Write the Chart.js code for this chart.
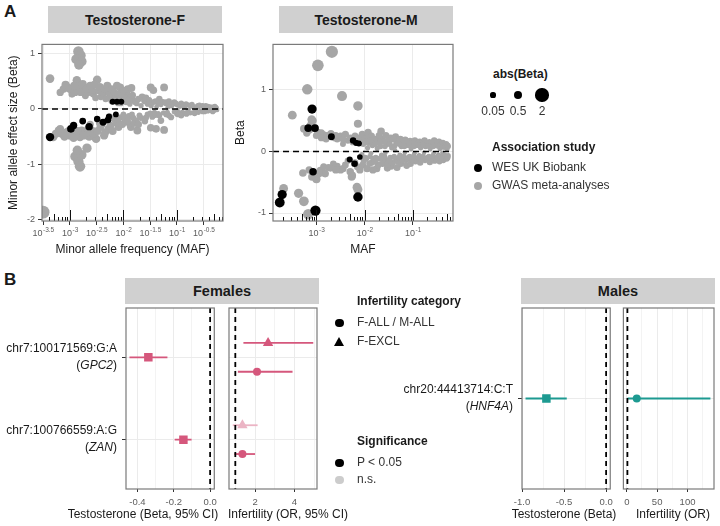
<!DOCTYPE html>
<html>
<head>
<meta charset="utf-8">
<script src="https://cdn.jsdelivr.net/npm/chart.js@4.4.1/dist/chart.umd.min.js"></script>
<style>
  body { margin: 0; background: #fff; font-family: "Liberation Sans", Arial, sans-serif; color: #1a1a1a; }
  #fig { position: relative; width: 720px; height: 526px; overflow: hidden; }
  #fig canvas, #fig .t, #fig .strip, #fig .shape { position: absolute; }
  .t { white-space: nowrap; line-height: 1.15; }
  .strip { background: #d0d0d0; font-weight: bold; display: flex; align-items: center; justify-content: center; color: #1a1a1a; }
</style>
</head>
<body>
<div id="fig"></div>
<script>
const FONT = '"Liberation Sans", Arial, sans-serif';
const GRID = '#ebebeb';
const TICK_TEXT = '#5c5c5c';
const PINK = '#d5577c';
const PINK_NS = '#ebb4c4';
const TEAL = '#1d9a91';
const GWAS_GREY = '#a6a6a6';

// ===== Panel A: log10(MAF) and Beta =====
const femWesLogMaf = [-3.37, -2.98, -2.93, -2.76, -2.64, -2.49, -2.38, -2.29, -2.27, -2.14, -2.20, -2.12, -2.04];
const femWesBeta   = [-0.51, -0.36, -0.30, -0.22, -0.32, -0.18, -0.24, -0.20, -0.14, -0.10, 0.13, 0.13, 0.13];

const femGwasLogMaf = [
  -2.84, -2.80, -2.88, -2.78, -2.83, -3.37, -3.12, -3.04, -2.96, -2.96, -2.87, -2.84, -2.74, -2.71, -2.65, -2.56,
  -2.49, -2.46, -2.37, -2.28, -2.20, -2.12, -2.06, -2.00, -1.93, -1.87, -1.81, -2.60, -2.52, -2.42, -2.33, -2.25,
  -2.15, -2.03, -1.95, -2.68, -2.90, -1.92, -1.85, -1.49, -1.24, -1.44, -1.33, -1.61, -1.05, -0.83, -0.61, -0.36,
  -0.27, -1.67, -1.55, -1.42, -1.17, -0.99, -0.77, -0.52, -1.75, -1.60, -1.45, -1.30, -1.20, -1.10, -0.95, -0.85,
  -0.70, -0.60, -0.45, -1.70, -1.55, -1.35, -1.25, -1.05, -0.90, -0.80, -0.65, -0.55, -0.40,
  -3.21, -3.31, -3.15, -3.06, -2.90, -2.81, -2.78, -2.68, -2.51, -2.59, -2.43, -2.34, -2.24, -2.09, -1.96, -1.87,
  -1.77, -3.00, -2.95, -2.70, -2.62, -2.45, -2.30, -2.18, -2.05, -1.90, -1.49, -1.39, -1.24, -1.74, -1.86, -1.30,
  -1.11, -0.92, -0.67, -0.42, -0.30, -2.90, -2.84, -2.81, -2.78, -2.86, -3.50, -1.60, -1.65, -2.10, -2.64,
  -3.18, -3.08, -3.00, -2.92, -2.80, -2.76, -2.70, -2.62, -2.58, -2.54, -2.44, -2.40, -2.35, -2.30, -2.26, -2.22,
  -2.17, -2.10, -2.08, -2.01, -1.98, -1.90, -1.83, -1.78, -1.72,
  -3.26, -3.18, -3.10, -3.02, -2.93, -2.86, -2.74, -2.66, -2.56, -2.48, -2.40, -2.36, -2.28, -2.20, -2.14, -2.10,
  -2.02, -1.98, -1.92, -1.82, -1.80, -1.68, -1.72,
  -1.58, -1.52, -1.48, -1.40, -1.38, -1.28, -1.15, -1.08, -1.00, -0.92, -0.88, -0.78, -0.72, -0.62, -0.50, -0.42,
  -0.32, -1.58, -1.46, -1.40, -1.20, -1.15, -1.00, -0.95, -0.85, -0.75, -0.60, -0.48, -0.35, -0.25, -0.26,
  -1.52, -1.50, -1.35, -1.33, -1.22, -1.18, -1.12, -1.02, -0.97, -0.88, -0.82, -0.74, -0.68, -0.58, -0.52, -0.46,
  -0.38, -0.33, -0.29, -2.22, -2.05, -1.88, -2.25, -2.00, -1.84
];
const femGwasBeta = [
  1.04, 0.97, 0.90, 0.86, 0.80, 0.55, 0.36, 0.39, 0.33, 0.27, 0.52, 0.39, 0.33, 0.24, 0.39, 0.27,
  0.53, 0.33, 0.27, 0.33, 0.24, 0.42, 0.39, 0.33, 0.27, 0.21, 0.15, 0.30, 0.20, 0.22, 0.18, 0.28,
  0.20, 0.15, 0.12, 0.30, 0.30, 0.36, 0.38, 0.39, 0.39, 0.34, 0.18, 0.15, 0.12, 0.09, 0.06, 0.03,
  0.03, 0.06, 0.09, -0.06, 0.03, -0.03, 0.00, 0.06, 0.10, 0.14, 0.12, 0.08, 0.10, 0.06, 0.05, 0.04,
  0.05, 0.03, 0.03, -0.12, -0.10, -0.09, -0.07, -0.05, -0.06, -0.04, -0.04, -0.03, -0.02,
  -0.39, -0.51, -0.45, -0.42, -0.45, -0.51, -0.39, -0.71, -0.54, -0.39, -0.33, -0.42, -0.30, -0.33, -0.24, -0.30,
  -0.21, -0.48, -0.36, -0.45, -0.28, -0.25, -0.22, -0.18, -0.15, -0.13, -0.34, -0.36, -0.38, -0.39, -0.33, -0.21,
  -0.15, -0.12, -0.08, -0.04, -0.03, -0.86, -0.95, -1.04, -0.83, -0.75, -1.87, -0.22, 0.22, 0.10, -0.50,
  0.30, 0.44, 0.36, 0.42, 0.30, 0.45, 0.36, 0.42, 0.34, 0.44, 0.40, 0.30, 0.36, 0.42, 0.20, 0.36,
  0.30, 0.27, 0.18, 0.24, 0.20, 0.17, 0.25, 0.12, 0.18,
  -0.45, -0.36, -0.50, -0.40, -0.52, -0.40, -0.48, -0.36, -0.45, -0.40, -0.28, -0.48, -0.36, -0.40, -0.26, -0.20,
  -0.28, -0.18, -0.22, -0.16, -0.26, -0.16, -0.28,
  0.20, 0.16, 0.06, 0.14, 0.04, 0.13, 0.14, 0.09, 0.08, 0.10, 0.07, 0.07, 0.08, 0.05, 0.04, 0.05,
  0.04, -0.16, -0.14, -0.11, -0.10, -0.12, -0.09, -0.08, -0.08, -0.07, -0.06, -0.05, -0.04, -0.02, 0.02,
  0.10, -0.08, 0.10, -0.12, 0.12, -0.06, 0.08, 0.10, -0.10, 0.06, -0.09, 0.06, -0.06, 0.07, -0.05, 0.06,
  0.04, -0.05, 0.05, 0.14, 0.10, 0.09, -0.14, -0.10, -0.10
];

const maleWesLogMaf = [-3.76, -3.71, -3.09, -3.17, -3.03, -2.69, -3.07, -3.02, -2.24, -2.18, -2.12, -2.31, -2.21, -2.10, -2.14];
const maleWesBeta   = [-0.83, -0.70, 0.69, 0.38, 0.38, 0.24, -0.33, -0.96, 0.18, 0.14, 0.13, -0.13, -0.20, -0.09, -0.74];

const maleGwasLogMaf = [
  -2.68, -2.97, -3.19, -2.47, -2.14, -3.50, -2.14, -3.08, -3.12, -2.14, -3.68, -3.37, -3.26, -3.17, -3.28, -2.16,
  -3.26, -3.15, -3.05, -2.97, -2.90, -2.85, -2.78, -2.70, -2.62, -2.57, -2.50, -2.40, -2.35, -2.30, -2.25, -2.90, -3.10, -2.45,
  -3.09, -2.92, -2.75, -2.57, -2.40, -2.26, -2.50, -2.65, -2.82, -3.00, -2.35, -2.20, -3.06, -2.71, -2.30, -2.27,
  -3.20, -3.00, -2.80, -2.60, -2.45, -2.20, -2.10, -3.15, -2.95, -2.85, -2.60, -2.45, -2.15, -2.10,
  -2.05, -2.03, -2.06, -2.04, -1.96, -1.94, -1.97, -1.95, -1.93, -1.86, -1.84, -1.87, -1.85, -1.83,
  -1.76, -1.74, -1.77, -1.75, -1.66, -1.64, -1.67, -1.65, -1.63, -1.56, -1.54, -1.57, -1.55, -1.53,
  -1.46, -1.44, -1.47, -1.45, -1.36, -1.34, -1.37, -1.35, -1.33, -1.26, -1.24, -1.27, -1.25,
  -1.16, -1.14, -1.17, -1.15, -1.13, -1.06, -1.04, -1.07, -1.05, -0.96, -0.94, -0.97, -0.95,
  -0.86, -0.84, -0.87, -0.85, -0.76, -0.74, -0.77, -0.75, -0.66, -0.64, -0.67, -0.65,
  -0.56, -0.54, -0.57, -0.55, -0.46, -0.44, -0.47, -0.45, -0.38, -0.36, -0.39, -0.37, -0.31, -0.29, -0.32, -0.30,
  -2.00, -2.02, -1.92, -1.90, -1.80, -1.82, -1.70, -1.72, -1.60, -1.62, -1.50, -1.52, -1.40, -1.42, -1.30, -1.32,
  -1.20, -1.22, -1.10, -1.12, -1.00, -1.02, -0.90, -0.92, -0.80, -0.82, -0.70, -0.72, -0.60, -0.62, -0.50, -0.52,
  -0.42, -0.40, -0.34, -0.33, -0.27, -0.27,
  -1.98, -1.99, -1.88, -1.89, -1.78, -1.79, -1.68, -1.69, -1.58, -1.59, -1.48, -1.49, -1.38, -1.39, -1.28, -1.29,
  -1.18, -1.19, -1.08, -1.09, -0.98, -0.99, -0.88, -0.89, -0.78, -0.79, -0.68, -0.69, -0.58, -0.59, -0.48, -0.49,
  -0.40, -0.41, -0.33, -0.34, -0.28, -0.28
];
const maleGwasBeta = [
  1.62, 1.40, 1.01, 0.90, 0.74, 0.59, 0.45, 0.50, 0.42, -0.62, -0.60, -0.68, -0.81, -1.02, -0.35, -0.58,
  0.37, 0.35, 0.38, 0.31, 0.30, 0.27, 0.26, 0.29, 0.22, 0.20, 0.25, 0.28, 0.18, 0.22, 0.15, 0.22, 0.52, 0.12,
  -0.41, -0.31, -0.26, -0.24, -0.22, -0.39, -0.30, -0.20, -0.36, -0.45, -0.15, -0.18, -0.39, -0.27, -0.33, -0.41,
  0.30, 0.26, 0.20, 0.26, 0.20, 0.25, 0.22, -0.30, -0.36, -0.25, -0.30, -0.28, -0.25, -0.30,
  0.28, 0.12, -0.05, -0.22, 0.22, 0.06, -0.12, -0.28, 0.31, 0.25, 0.10, -0.03, -0.18, -0.30,
  0.18, 0.05, -0.10, -0.28, 0.33, 0.20, 0.08, -0.06, -0.20, 0.26, 0.12, -0.02, -0.15, -0.27,
  0.22, 0.06, -0.10, -0.24, 0.24, 0.14, 0.02, -0.12, -0.26, 0.20, 0.08, -0.06, -0.20,
  0.19, 0.10, -0.02, -0.14, -0.23, 0.17, 0.04, -0.08, -0.20, 0.18, 0.10, -0.03, -0.16,
  0.16, 0.06, -0.07, -0.18, 0.18, 0.08, -0.02, -0.14, 0.15, 0.04, -0.08, -0.17,
  0.18, 0.10, -0.03, -0.15, 0.16, 0.05, -0.06, -0.16, 0.14, 0.07, -0.02, -0.14, 0.12, 0.03, -0.08, -0.12,
  0.20, -0.15, 0.14, -0.20, 0.20, -0.12, 0.26, -0.22, 0.16, -0.12, 0.18, -0.20, 0.20, -0.18, 0.14, -0.16,
  0.16, -0.14, 0.14, -0.12, 0.13, -0.14, 0.13, -0.12, 0.12, -0.12, 0.13, -0.12, 0.12, -0.11, 0.12, -0.11,
  0.11, -0.10, 0.10, -0.10, 0.08, -0.07,
  0.16, -0.10, 0.18, -0.08, 0.12, -0.16, 0.14, -0.12, 0.08, -0.08, 0.12, -0.14, 0.09, -0.08, 0.12, -0.10,
  0.08, -0.08, 0.10, -0.10, 0.08, -0.08, 0.10, -0.10, 0.10, -0.08, 0.09, -0.10, 0.08, -0.08, 0.09, -0.09,
  0.08, -0.08, 0.07, -0.06, 0.10, -0.10
];

const femMafTicks = [-3.5, -3, -2.5, -2, -1.5, -1, -0.5];
const maleMafTicks = [-3, -2, -1];
const femBetaTicks = [-2, -1, 0, 1];
const maleBetaTicks = [-1, 0, 1];
const sizeBreaks = [0.05, 0.5, 2];
const sizeBreakLabels = ['0.05', '0.5', '2'];

// ===== Panel B =====
const femVariants = ['chr7:100171569:G:A', 'chr7:100766559:A:G'];
const femGenes = ['GPC2', 'ZAN'];
const femTestoBeta = [-0.34, -0.147];
const femTestoLo = [-0.444, -0.195];
const femTestoHi = [-0.235, -0.102];
const femInfVariant = [0, 0, 1, 1];
const femInfCategory = ['F-EXCL', 'F-ALL', 'F-EXCL', 'F-ALL'];
const femInfOr = [2.66, 2.10, 1.36, 1.36];
const femInfLo = [1.41, 1.13, 0.87, 0.95];
const femInfHi = [4.95, 3.90, 2.13, 2.00];
const femInfSignificant = [true, true, false, true];

const maleVariants = ['chr20:44413714:C:T'];
const maleGenes = ['HNF4A'];
const maleTestoBeta = [-0.71];
const maleTestoLo = [-0.958];
const maleTestoHi = [-0.468];
const maleInfCategory = ['M-ALL'];
const maleInfOr = [16.4];
const maleInfLo = [1.2];
const maleInfHi = [137.7];
const maleInfSignificant = [true];

const femTestoTicks = [-0.4, -0.3, -0.2, -0.1, 0];
const femTestoMajor = [-0.4, -0.2, 0];
const femInfTicks = [1, 2, 3, 4, 5];
const femInfMajor = [2, 4];
const maleTestoTicks = [-1, -0.75, -0.5, -0.25, 0];
const maleTestoMajor = [-1, -0.5, 0];
const maleInfTicks = [0, 25, 50, 75, 100, 125];
const maleInfMajor = [0, 50, 100];

const DODGE = 0.175;

Chart.defaults.font.family = FONT;
const fig = document.getElementById('fig');

const sizeFor = b => 1.8 + 3.4 * Math.sqrt(Math.abs(b));
const mafPoints = (logs, betas) => logs.map((v, i) => ({ x: Math.pow(10, v), y: betas[i] }));
const isIn = (list, v) => list.some(m => Math.abs(m - v) < 1e-9);

// ---- decoration plugin: frame, reference line, log ticks, custom labels ----
function deco(cfg) {
  return {
    id: 'deco',
    afterDatasetsDraw(chart) {
      const { ctx, chartArea: a, scales: { x, y } } = chart;
      ctx.save();
      ctx.beginPath();
      ctx.rect(a.left, a.top, a.width, a.height);
      ctx.clip();
      ctx.strokeStyle = '#111';
      if (cfg.logTicks) {
        ctx.lineWidth = 1;
        for (let e = -5; e <= 0; e++) {
          for (let d = 1; d <= 9; d++) {
            const v = d * Math.pow(10, e);
            if (v < x.min || v > x.max) continue;
            const px = Math.round(x.getPixelForValue(v)) + 0.5;
            const len = d === 1 ? 11 : (d === 5 ? 7 : 4);
            ctx.beginPath();
            ctx.moveTo(px, a.bottom);
            ctx.lineTo(px, a.bottom - len);
            ctx.stroke();
          }
        }
      }
      ctx.strokeStyle = '#000';
      ctx.lineWidth = cfg.dashWidth;
      ctx.setLineDash(cfg.dash);
      if (cfg.refY !== undefined) {
        const py = y.getPixelForValue(cfg.refY);
        ctx.beginPath(); ctx.moveTo(a.left, py); ctx.lineTo(a.right, py); ctx.stroke();
      }
      if (cfg.refX !== undefined) {
        const px = x.getPixelForValue(cfg.refX);
        ctx.beginPath(); ctx.moveTo(px, a.top); ctx.lineTo(px, a.bottom); ctx.stroke();
      }
      ctx.restore();
    },
    afterDraw(chart) {
      const { ctx, chartArea: a, scales: { x, y } } = chart;
      ctx.save();
      ctx.strokeStyle = '#7a7a7a';
      ctx.lineWidth = 1.2;
      ctx.strokeRect(a.left, a.top, a.width, a.height);

      // 10^k labels for the MAF axes
      if (cfg.powLabels) {
        ctx.fillStyle = TICK_TEXT;
        ctx.textBaseline = 'middle';
        ctx.textAlign = 'left';
        cfg.powLabels.forEach(e => {
          const px = x.getPixelForValue(Math.pow(10, e));
          const ex = String(e);
          ctx.font = '9px ' + FONT;
          const w1 = ctx.measureText('10').width;
          ctx.font = '6.5px ' + FONT;
          const w2 = ctx.measureText(ex).width;
          const x0 = px - (w1 + w2) / 2;
          ctx.font = '9px ' + FONT;
          ctx.fillText('10', x0, a.bottom + 13);
          ctx.font = '6.5px ' + FONT;
          ctx.fillText(ex, x0 + w1 + 0.5, a.bottom + 9);
        });
      }

      // variant labels with italic gene names
      if (cfg.cats) {
        ctx.fillStyle = '#1a1a1a';
        ctx.textBaseline = 'middle';
        ctx.textAlign = 'right';
        const xr = a.left - 9;
        cfg.cats.forEach(c => {
          const py = y.getPixelForValue(c.v);
          ctx.font = '12px ' + FONT;
          ctx.fillText(c.label, xr, py - 9);
          ctx.fillText(')', xr, py + 8.5);
          let w = ctx.measureText(')').width;
          ctx.font = 'italic 12px ' + FONT;
          ctx.fillText(c.gene, xr - w, py + 8.5);
          w += ctx.measureText(c.gene).width;
          ctx.font = '12px ' + FONT;
          ctx.fillText('(', xr - w, py + 8.5);
        });
      }
      ctx.restore();
    }
  };
}

function addCanvas(g) {
  const c = document.createElement('canvas');
  c.width = g.w;
  c.height = g.h;
  c.style.left = g.left + 'px';
  c.style.top = g.top + 'px';
  fig.appendChild(c);
  return c;
}

function baseOptions(g) {
  return {
    responsive: false,
    animation: false,
    devicePixelRatio: 1,
    events: [],
    layout: { padding: { left: 0, top: g.padT, right: g.padR, bottom: 0 } },
    plugins: { legend: { display: false }, tooltip: { enabled: false } }
  };
}

// ---- Panel A scatter ----
function mafChart(g, s) {
  const opts = baseOptions(g);
  opts.scales = {
    x: {
      type: 'logarithmic', bounds: 'data',
      min: Math.pow(10, s.xMin), max: Math.pow(10, s.xMax),
      afterBuildTicks: sc => { sc.ticks = s.xTicks.map(e => ({ value: Math.pow(10, e) })); },
      ticks: { display: false },
      grid: { color: GRID, lineWidth: 1, tickLength: 4, tickColor: '#333' },
      border: { display: false },
      title: { display: true, text: s.xTitle, color: '#1a1a1a', font: { size: 12 }, padding: { top: 0, bottom: 5 } },
      afterFit: sc => { sc.height = g.xH; }
    },
    y: {
      type: 'linear', bounds: 'data', min: s.yMin, max: s.yMax,
      afterBuildTicks: sc => { sc.ticks = s.yTicks.map(v => ({ value: v })); },
      ticks: { color: TICK_TEXT, font: { size: 9 }, padding: 3, autoSkip: false, callback: v => String(v) },
      grid: { color: GRID, lineWidth: 1, tickLength: 4, tickColor: '#333' },
      border: { display: false },
      title: { display: true, text: s.yTitle, color: '#1a1a1a', font: { size: 12 }, padding: { top: s.yTitlePad, bottom: 0 } },
      afterFit: sc => { sc.width = g.yW; }
    }
  };
  new Chart(addCanvas(g), {
    type: 'scatter',
    data: {
      datasets: [
        { label: 'WES UK Biobank', data: mafPoints(s.wesLog, s.wesBeta), backgroundColor: '#000',
          borderWidth: 0, pointRadius: ctx => sizeFor(ctx.raw.y), clip: 0, order: 0 },
        { label: 'GWAS meta-analyses', data: mafPoints(s.gwasLog, s.gwasBeta), backgroundColor: GWAS_GREY,
          borderWidth: 0, pointRadius: ctx => sizeFor(ctx.raw.y), clip: 0, order: 1 }
      ]
    },
    options: opts,
    plugins: [deco({ refY: 0, dash: [6, 4], dashWidth: 1.5, logTicks: true, powLabels: s.powLabels })]
  });
}

mafChart({ left: 0, top: 36, w: 232, h: 226, padT: 7, padR: 9, yW: 42, xH: 41 }, {
  wesLog: femWesLogMaf, wesBeta: femWesBeta, gwasLog: femGwasLogMaf, gwasBeta: femGwasBeta,
  xMin: -3.52, xMax: -0.14, yMin: -2.03, yMax: 1.17,
  xTicks: femMafTicks, yTicks: femBetaTicks, powLabels: femMafTicks,
  xTitle: 'Minor allele frequency (MAF)', yTitle: 'Minor allele effect size (Beta)', yTitlePad: 6
});
mafChart({ left: 226, top: 36, w: 236, h: 226, padT: 7, padR: 9, yW: 47, xH: 41 }, {
  wesLog: maleWesLogMaf, wesBeta: maleWesBeta, gwasLog: maleGwasLogMaf, gwasBeta: maleGwasBeta,
  xMin: -3.9, xMax: -0.17, yMin: -1.13, yMax: 1.74,
  xTicks: maleMafTicks, yTicks: maleBetaTicks, powLabels: maleMafTicks,
  xTitle: 'MAF', yTitle: 'Beta', yTitlePad: 7
});

// ---- Panel B forest plots ----
function forestChart(g, s) {
  const opts = baseOptions(g);
  opts.scales = {
    x: {
      type: 'linear', bounds: 'data', min: s.xMin, max: s.xMax,
      afterBuildTicks: sc => { sc.ticks = s.ticks.map(v => ({ value: v })); },
      ticks: {
        color: TICK_TEXT, font: { size: 9.5 }, padding: 5, autoSkip: false, maxRotation: 0,
        callback: v => (isIn(s.major, v) ? s.fmt(v) : '')
      },
      grid: {
        color: GRID,
        lineWidth: ctx => (isIn(s.major, ctx.tick.value) ? 1 : 0.6),
        tickLength: 3,
        tickColor: ctx => (isIn(s.major, ctx.tick.value) ? '#333' : 'rgba(0,0,0,0)')
      },
      border: { display: false },
      afterFit: sc => { sc.height = g.xH; }
    },
    y: {
      type: 'linear', bounds: 'data', min: 0.4, max: s.yMax,
      afterBuildTicks: sc => { sc.ticks = s.yTicks.map(v => ({ value: v })); },
      ticks: { display: false },
      grid: { color: GRID, lineWidth: 1, drawTicks: !!s.cats, tickLength: 4, tickColor: '#333' },
      border: { display: false },
      afterFit: sc => { sc.width = g.yW; }
    }
  };
  const ciSets = s.est.map((v, i) => ({
    data: [{ x: s.lo[i], y: s.y[i] }, { x: s.hi[i], y: s.y[i] }],
    showLine: true, borderColor: s.colors[i], borderWidth: 1.8, pointRadius: 0, clip: 0, order: 1
  }));
  const pointSet = {
    data: s.est.map((v, i) => ({ x: v, y: s.y[i] })),
    pointStyle: s.styles, pointRadius: s.radii, backgroundColor: s.colors,
    borderWidth: 0, clip: 0, order: 0
  };
  new Chart(addCanvas(g), {
    type: 'scatter',
    data: { datasets: [pointSet].concat(ciSets) },
    options: opts,
    plugins: [deco({ refX: s.ref, dash: [5, 4], dashWidth: 1.8, cats: s.cats })]
  });
}

const femY = femVariants.map((v, i) => femVariants.length - i);
const femCats = femVariants.map((v, i) => ({ v: femY[i], label: v, gene: femGenes[i] }));
const femInfY = femInfVariant.map((v, i) => femY[v] + (femInfCategory[i] === 'F-EXCL' ? DODGE : -DODGE));
const femInfColors = femInfSignificant.map(sig => (sig ? PINK : PINK_NS));
const maleY = maleVariants.map((v, i) => maleVariants.length - i);
const maleCats = maleVariants.map((v, i) => ({ v: maleY[i], label: v, gene: maleGenes[i] }));

forestChart({ left: 0, top: 300, w: 222, h: 226, padT: 8, padR: 4, yW: 126, xH: 37 }, {
  xMin: -0.463, xMax: 0.023, ticks: femTestoTicks, major: femTestoMajor, fmt: v => v.toFixed(1), ref: 0,
  yMax: 2.6, yTicks: femY, cats: femCats,
  est: femTestoBeta, lo: femTestoLo, hi: femTestoHi, y: femY,
  colors: femTestoBeta.map(() => PINK), styles: femTestoBeta.map(() => 'rect'), radii: femTestoBeta.map(() => 6)
});
forestChart({ left: 223, top: 300, w: 100, h: 226, padT: 8, padR: 4, yW: 4, xH: 37 }, {
  xMin: 0.68, xMax: 5.14, ticks: femInfTicks, major: femInfMajor, fmt: v => String(v), ref: 1,
  yMax: 2.6, yTicks: femY, cats: null,
  est: femInfOr, lo: femInfLo, hi: femInfHi, y: femInfY,
  colors: femInfColors,
  styles: femInfCategory.map(c => (c === 'F-EXCL' ? 'triangle' : 'circle')),
  radii: femInfCategory.map(c => (c === 'F-EXCL' ? 6 : 4))
});
forestChart({ left: 396, top: 300, w: 222, h: 226, padT: 8, padR: 4, yW: 126, xH: 37 }, {
  xMin: -1.0, xMax: 0.049, ticks: maleTestoTicks, major: maleTestoMajor, fmt: v => v.toFixed(1), ref: 0,
  yMax: 1.6, yTicks: maleY, cats: maleCats,
  est: maleTestoBeta, lo: maleTestoLo, hi: maleTestoHi, y: maleY,
  colors: maleTestoBeta.map(() => TEAL), styles: maleTestoBeta.map(() => 'rect'), radii: maleTestoBeta.map(() => 6)
});
forestChart({ left: 619, top: 300, w: 101, h: 226, padT: 8, padR: 6, yW: 4, xH: 37 }, {
  xMin: -5.6, xMax: 143.6, ticks: maleInfTicks, major: maleInfMajor, fmt: v => String(v), ref: 1,
  yMax: 1.6, yTicks: maleY, cats: null,
  est: maleInfOr, lo: maleInfLo, hi: maleInfHi, y: maleY,
  colors: maleInfSignificant.map(sig => (sig ? TEAL : '#a9dcd8')),
  styles: maleInfCategory.map(c => (c === 'F-EXCL' ? 'triangle' : 'circle')),
  radii: maleInfCategory.map(c => (c === 'F-EXCL' ? 6 : 4))
});

// ---- text, strips, legends ----
function text(str, x, y, o = {}) {
  const d = document.createElement('div');
  d.className = 't';
  d.textContent = str;
  d.style.left = x + 'px';
  d.style.top = y + 'px';
  d.style.fontSize = (o.size || 12) + 'px';
  d.style.fontWeight = o.bold ? 'bold' : 'normal';
  d.style.color = o.color || '#1a1a1a';
  d.style.transform = 'translate(' + (o.center ? '-50%' : '0') + ',-50%)';
  fig.appendChild(d);
}
function strip(str, x, y, w, h, size) {
  const d = document.createElement('div');
  d.className = 'strip';
  d.textContent = str;
  d.style.cssText = 'left:' + x + 'px;top:' + y + 'px;width:' + w + 'px;height:' + h + 'px;font-size:' + size + 'px';
  fig.appendChild(d);
}
function dot(x, y, r, color) {
  const d = document.createElement('div');
  d.className = 'shape';
  d.style.cssText = 'left:' + (x - r) + 'px;top:' + (y - r) + 'px;width:' + (2 * r) + 'px;height:' + (2 * r) + 'px;border-radius:50%;background:' + color;
  fig.appendChild(d);
}
function triangle(x, y, color) {
  const d = document.createElement('div');
  d.className = 'shape';
  d.style.cssText = 'left:' + (x - 5.5) + 'px;top:' + (y - 5) + 'px;width:0;height:0;border-left:5.5px solid transparent;border-right:5.5px solid transparent;border-bottom:9.5px solid ' + color;
  fig.appendChild(d);
}

text('A', 4, 12, { size: 17, bold: true });
text('B', 4, 280, { size: 17, bold: true });
strip('Testosterone-F', 48, 6, 174, 27, 14);
strip('Testosterone-M', 279, 6, 174, 27, 14);
strip('Females', 125, 278, 194, 26, 14.5);
strip('Males', 521, 278, 194, 26, 14.5);

text('Testosterone (Beta, 95% CI)', 143, 515, { center: true });
text('Infertility (OR, 95% CI)', 288, 515, { center: true });
text('Testosterone (Beta)', 564, 515, { center: true });
text('Infertility (OR)', 673, 515, { center: true });

// legend: abs(Beta)
text('abs(Beta)', 493, 75, { bold: true });
const sizeKeyX = [493, 518, 542];
sizeBreaks.forEach((b, i) => {
  dot(sizeKeyX[i], 95, sizeFor(b), '#000');
  text(sizeBreakLabels[i], sizeKeyX[i], 112, { center: true, color: '#333' });
});
// legend: association study
text('Association study', 492, 148, { bold: true });
dot(478, 168, 4, '#000');
text('WES UK Biobank', 492, 168, { color: '#333' });
dot(478, 186, 4, GWAS_GREY);
text('GWAS meta-analyses', 492, 186, { color: '#333' });

// legend: infertility category / significance
text('Infertility category', 357, 302, { bold: true });
dot(339.5, 323, 4.2, '#000');
text('F-ALL / M-ALL', 357, 323, { color: '#333' });
triangle(339.5, 342, '#000');
text('F-EXCL', 357, 342, { color: '#333' });
text('Significance', 357, 442, { bold: true });
dot(339.5, 463, 4.2, '#000');
text('P < 0.05', 357, 463, { color: '#333' });
dot(339.5, 480, 4.2, '#cccccc');
text('n.s.', 357, 480, { color: '#333' });
</script>
</body>
</html>
